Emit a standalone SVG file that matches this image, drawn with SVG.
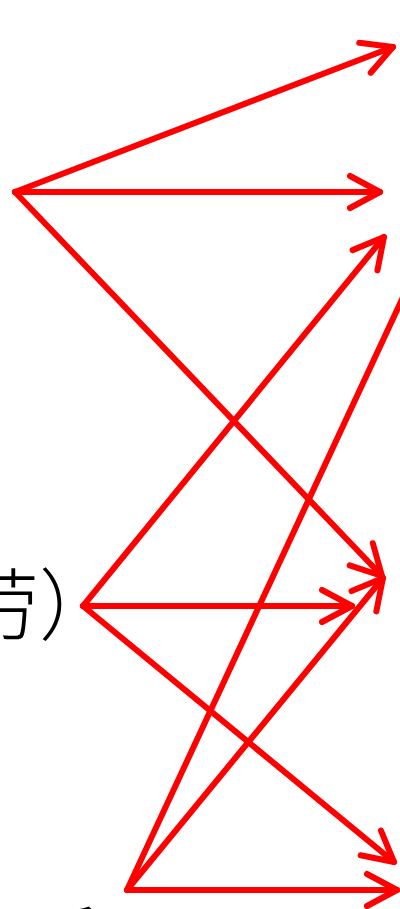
<svg xmlns="http://www.w3.org/2000/svg" width="400" height="909" viewBox="0 0 400 909">
<style>
.e{stroke:#ff0000;stroke-width:6;stroke-linecap:round;fill:none;}
.t{font-family:"Noto Sans CJK SC","Noto Sans CJK JP",sans-serif;font-size:78px;font-weight:300;fill:#000;}
</style>
<defs>
<marker id="ah" markerUnits="userSpaceOnUse" viewBox="-40 -25 50 50" markerWidth="50" markerHeight="50" refX="0" refY="0" orient="auto" overflow="visible">
<path d="M-30,-16 L0,0 L-30,16" fill="none" stroke="#ff0000" stroke-width="6" stroke-linecap="round" stroke-linejoin="round"/>
</marker>
</defs>
<rect width="400" height="909" fill="#fff"/>
<g id="nodeA"></g>
<g id="nodeB"><text class="t" x="117" y="634" text-anchor="end">劳）</text></g>
<g id="nodeC"><text class="t" x="104" y="972" text-anchor="end">手</text></g>
<g id="edges">
<line class="e" x1="15" y1="192" x2="393" y2="47" marker-end="url(#ah)"/>
<line class="e" x1="15" y1="192" x2="380" y2="192" marker-end="url(#ah)"/>
<line class="e" x1="15" y1="192" x2="382" y2="576" marker-end="url(#ah)"/>
<line class="e" x1="83" y1="606" x2="384" y2="237" marker-end="url(#ah)"/>
<line class="e" x1="83" y1="606" x2="352" y2="606" marker-end="url(#ah)"/>
<line class="e" x1="83" y1="606" x2="394" y2="862" marker-end="url(#ah)"/>
<line class="e" x1="127" y1="890" x2="411" y2="280"/>
<line class="e" x1="127" y1="890" x2="383" y2="578" marker-end="url(#ah)"/>
<line class="e" x1="127" y1="890" x2="397" y2="890" marker-end="url(#ah)"/>
</g>
</svg>
